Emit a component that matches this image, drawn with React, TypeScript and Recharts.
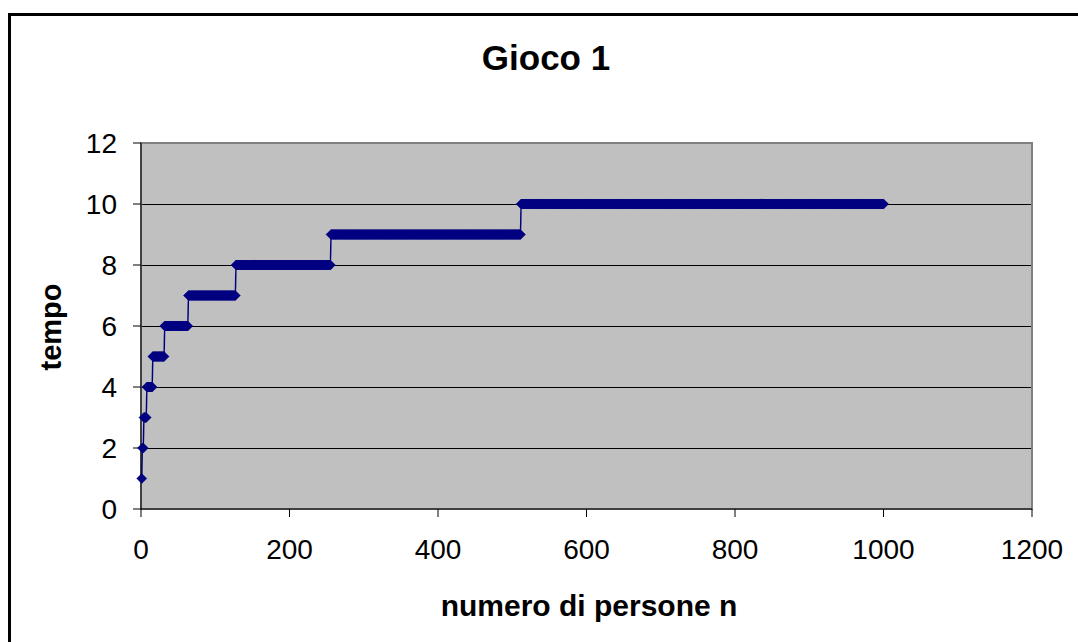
import React from 'react';
import { LineChart, Line, XAxis, YAxis, CartesianGrid, ReferenceArea } from 'recharts';

// Step function: value holds from its start n up to the next start
const stepStarts = [1, 2, 4, 8, 16, 32, 64, 128, 256, 512];
const stepValues = [1, 2, 3, 4, 5, 6, 7, 8, 9, 10];
const lastN = 1000;

const xTicks = [0, 200, 400, 600, 800, 1000, 1200];
const yTicks = [0, 2, 4, 6, 8, 10, 12];

const chartTitle = 'Gioco 1';
const xLabel = 'numero di persone n';
const yLabel = 'tempo';

const data: { n: number; tempo: number }[] = [];
stepStarts.forEach((start, i) => {
  const end = i + 1 < stepStarts.length ? stepStarts[i + 1] - 1 : lastN;
  for (let n = start; n <= end; n++) data.push({ n, tempo: stepValues[i] });
});

const FONT = '"Liberation Sans", Arial, sans-serif';
const NAVY = '#000080';

const Diamond = (props: any) => {
  const { cx, cy, index } = props;
  if (cx == null || cy == null) return <g key={index} />;
  const r = 5;
  return (
    <path
      key={index}
      d={`M${cx},${cy - r}L${cx + r},${cy}L${cx},${cy + r}L${cx - r},${cy}Z`}
      fill={NAVY}
      stroke={NAVY}
      strokeWidth={0.5}
    />
  );
};

export default function App() {
  return (
    <div style={{ position: 'fixed', left: 0, top: 0, width: 1078, height: 642, overflow: 'hidden', background: '#fff', fontFamily: FONT }}>
      <div style={{ position: 'absolute', left: 8, top: 13, width: 1200, height: 800, border: '3px solid #000', boxSizing: 'border-box' }} />
      <div style={{ position: 'absolute', left: 346, top: 40, width: 400, textAlign: 'center', fontSize: 35, fontWeight: 'bold', lineHeight: '35px', color: '#000' }}>
        {chartTitle}
      </div>
      <div style={{ position: 'absolute', left: 389, top: 591, width: 400, textAlign: 'center', fontSize: 30, fontWeight: 'bold', lineHeight: '30px', color: '#000', whiteSpace: 'nowrap' }}>
        {xLabel}
      </div>
      <div style={{ position: 'absolute', left: 51, top: 327, transform: 'translate(-50%, -50%) rotate(-90deg)', fontSize: 29, fontWeight: 'bold', lineHeight: '29px', color: '#000', whiteSpace: 'nowrap' }}>
        {yLabel}
      </div>
      <div style={{ position: 'absolute', left: 0, top: 0 }}>
        <LineChart width={1078} height={642} data={data} margin={{ top: 143, right: 46, left: 81, bottom: 93 }}>
          <CartesianGrid horizontal={true} vertical={false} stroke="#000" strokeWidth={1} fill="#C0C0C0" fillOpacity={1} shapeRendering="crispEdges" />
          <ReferenceArea x1={0} x2={1200} y1={0} y2={12} fill="none" stroke="#808080" strokeWidth={2} ifOverflow="visible" />
          <XAxis
            dataKey="n"
            type="number"
            domain={[0, 1200]}
            ticks={xTicks}
            height={40}
            tickSize={8}
            tickMargin={22}
            axisLine={{ stroke: '#000', strokeWidth: 1 }}
            tickLine={{ stroke: '#000', strokeWidth: 1 }}
            tick={{ fill: '#000', fontSize: 28, fontFamily: FONT }}
            interval={0}
          />
          <YAxis
            type="number"
            domain={[0, 12]}
            ticks={yTicks}
            width={60}
            tickSize={8}
            tickMargin={16}
            axisLine={{ stroke: '#000', strokeWidth: 1 }}
            tickLine={{ stroke: '#000', strokeWidth: 1 }}
            tick={{ fill: '#000', fontSize: 28, fontFamily: FONT }}
            interval={0}
          />
          <Line
            type="monotone"
            dataKey="tempo"
            stroke={NAVY}
            strokeWidth={1.5}
            dot={Diamond}
            activeDot={false}
            isAnimationActive={false}
          />
        </LineChart>
      </div>
    </div>
  );
}
